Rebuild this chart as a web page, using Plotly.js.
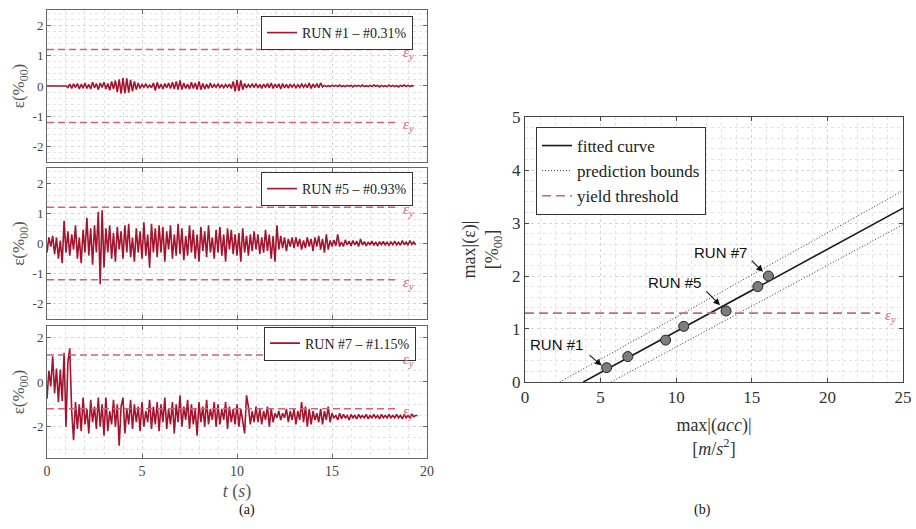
<!DOCTYPE html>
<html>
<head>
<meta charset="utf-8">
<script src="https://cdn.plot.ly/plotly-3.0.1.min.js"></script>
<style>html,body{margin:0;padding:0;background:#fff;}#chart{width:916px;height:529px;}</style>
</head>
<body>
<div id="chart"></div>
<script>
// ---------- DATA ----------
const sampleStep = 0.1; // s, time sampling of the strain records
const run1Strain = [
 0,0,0,0,0,0,0,0,0,0,
 0,-0.05,0.06,-0.08,0.07,-0.05,0.08,-0.1,0.06,-0.07,
 0.1,-0.08,0.05,-0.1,0.12,-0.06,0.08,-0.12,0.1,-0.05,
 0.12,-0.1,0.08,-0.14,0.15,-0.1,0.18,-0.2,0.22,-0.25,
 0.26,-0.24,0.25,-0.22,0.2,-0.18,0.15,-0.12,0.1,-0.08,
 0.05,-0.04,0.06,-0.05,0.03,-0.06,0.1,-0.15,0.12,-0.08,
 0.06,-0.1,0.08,-0.06,0.1,-0.08,0.12,-0.1,0.15,-0.12,
 0.18,-0.12,0.1,-0.08,0.06,-0.1,0.12,-0.08,0.1,-0.12,
 0.15,-0.12,0.08,-0.1,0.06,-0.08,0.1,-0.06,0.05,-0.04,
 0.06,-0.05,0.04,-0.06,0.05,-0.04,0.06,-0.08,0.15,-0.18,
 0.2,-0.16,0.18,-0.12,0.08,-0.06,0.05,-0.04,0.06,-0.05,
 0.08,-0.06,0.05,-0.08,0.06,-0.05,0.08,-0.06,0.1,-0.08,
 0.06,-0.05,0.07,-0.1,0.08,-0.06,0.05,-0.07,0.06,-0.04,
 0.05,-0.06,0.04,-0.05,0.06,-0.04,0.05,-0.06,0.1,-0.08,
 0.06,-0.05,0.08,-0.06,0.1,-0.03,0.02,-0.02,0.01,-0.02,
 0.02,-0.01,0.02,-0.02,0.03,-0.02,0.01,-0.02,0.02,-0.01,
 0.02,-0.03,0.02,-0.01,0.02,-0.02,0.03,-0.02,0.01,-0.02,
 0.02,-0.02,0.03,-0.01,0.02,-0.03,0.02,-0.02,0.01,-0.02,
 0.03,-0.02,0.02,-0.02,0.01,-0.03,0.02,-0.01,0.03,-0.02,
 0.02,-0.02,0.01,0.0
];
const run5Strain = [
 -0.3,0.2,-0.1,0.25,-0.35,0.2,-0.5,0.1,-0.65,0.75,
 -0.3,0.4,-0.4,0.3,-0.2,0.6,-0.5,0.2,-0.65,0.45,
 -0.3,0.85,-0.4,0.5,-0.7,0.6,-0.3,1.05,-1.35,1.1,
 -0.8,0.5,-0.3,0.6,-0.5,0.35,-0.6,0.55,-0.2,0.4,
 -0.5,0.6,-0.3,0.65,-0.45,0.2,-0.6,0.5,-0.3,0.4,
 -0.5,0.7,-0.4,0.3,-0.8,0.65,-0.3,0.5,-0.45,0.6,
 -0.3,0.55,-0.6,0.4,-0.2,0.6,-0.5,0.3,-0.4,0.65,
 -0.35,0.5,-0.55,0.25,-0.4,0.6,-0.3,0.45,-0.5,0.3,
 -0.6,0.55,-0.25,0.4,-0.45,0.6,-0.3,0.2,-0.5,0.45,
 -0.3,0.55,-0.4,0.3,-0.6,0.5,-0.2,0.45,-0.35,0.3,
 -0.4,0.35,-0.6,0.5,-0.3,0.25,-0.4,0.3,-0.25,0.4,
 -0.2,0.3,-0.35,0.2,-0.3,0.45,-0.25,0.3,-0.5,0.25,
 -0.6,0.6,-0.2,0.25,-0.15,0.2,-0.25,0.15,-0.1,0.2,
 -0.15,0.2,-0.1,0.15,-0.2,0.1,-0.15,0.2,-0.1,0.15,
 -0.25,0.2,-0.1,0.25,-0.2,0.15,-0.3,0.3,-0.2,0.1,
 -0.1,0.12,-0.08,0.3,-0.1,0.05,-0.1,0.12,-0.05,0.08,
 -0.08,0.1,-0.05,0.08,-0.1,0.15,-0.05,0.06,-0.08,0.05,
 -0.05,0.08,-0.06,0.05,-0.08,0.06,-0.04,0.07,-0.05,0.04,
 -0.06,0.05,-0.04,0.08,-0.05,0.04,-0.06,0.1,-0.04,0.05,
 -0.06,0.1,-0.03,0.05,-0.05
];
const run7Strain = [
 -0.75,0.5,-0.2,1.15,-0.5,0.6,-0.9,0.55,-0.85,1.3,
 -2.0,0.9,1.5,-1.3,-2.6,-0.9,-2.1,-1.0,-2.2,-0.7,
 -1.9,-1.2,-2.3,-0.8,-1.8,-1.1,-2.1,-0.7,-2.0,-1.0,
 -2.4,-0.7,-2.2,-1.3,-1.9,-0.8,-2.0,-1.0,-2.85,-1.1,
 -0.7,-2.3,-1.2,-1.9,-0.8,-2.1,-1.0,-1.8,-1.1,-2.2,
 -0.9,-2.0,-1.3,-1.8,-0.8,-2.1,-1.1,-1.9,-0.9,-2.2,
 -1.0,-1.8,-0.7,-2.1,-1.2,-1.9,-0.9,-2.3,-1.0,-1.8,
 -0.6,-2.0,-1.1,-1.7,-0.8,-2.1,-1.0,-1.9,-1.2,-2.4,
 -0.9,-1.8,-1.1,-2.0,-0.8,-1.9,-1.2,-1.7,-0.9,-2.0,
 -1.0,-1.9,-1.2,-1.7,-0.9,-2.1,-1.1,-1.8,-1.2,-1.9,
 -1.0,-2.0,-1.2,-1.7,-2.3,-0.6,-1.1,-1.9,-1.3,-1.8,
 -1.1,-1.8,-1.2,-1.9,-1.3,-1.7,-1.1,-2.0,-1.2,-1.8,
 -1.4,-1.6,-1.3,-1.7,-1.4,-1.6,-1.2,-1.8,-1.3,-1.7,
 -1.2,-1.9,-1.3,-1.7,-0.9,-1.8,-1.1,-2.0,-1.2,-1.9,
 -1.3,-1.7,-1.4,-1.8,-1.2,-1.9,-1.3,-1.7,-1.1,-1.8,
 -1.4,-1.6,-1.5,-1.7,-1.4,-1.65,-1.45,-1.6,-1.5,-1.7,
 -1.45,-1.6,-1.5,-1.65,-1.45,-1.6,-1.5,-1.6,-1.45,-1.65,
 -1.5,-1.6,-1.45,-1.6,-1.5,-1.65,-1.45,-1.6,-1.5,-1.6,
 -1.45,-1.6,-1.5,-1.6,-1.45,-1.6,-1.5,-1.65,-1.45,-1.6,
 -1.5,-1.6,-1.45,-1.55,-1.5,-1.5
];
const runLabels = ['RUN #1 – #0.31%', 'RUN #5 – #0.93%', 'RUN #7 – #1.15%'];
const yieldStrainA = 1.2;          // ‰, panel (a)
const yieldLineEndA = 18.5;        // s
const yieldStrainB = 1.3;          // ‰, panel (b)
const yieldLineEndB = 23.5;        // m/s²

const peakAcc    = [5.4, 6.8, 9.3, 10.5, 13.3, 15.4, 16.1];
const peakStrain = [0.27, 0.48, 0.79, 1.05, 1.34, 1.80, 2.00];
const fitX   = [3.86, 25];  const fitY   = [0, 3.28];
const upperX = [2.3, 25];   const upperY = [0, 3.61];
const lowerX = [5.7, 25];   const lowerY = [0, 2.97];

const yTicksA = [-2, -1, 0, 1, 2];   const yTickTextA = ['-2','-1','0','1','2'];
const yTicksA3 = [-2, 0, 2];         const yTickTextA3 = ['-2','0','2'];
const xTicksA = [0, 5, 10, 15, 20];
const xTicksB = [0, 5, 10, 15, 20, 25];
const yTicksB = [0, 1, 2, 3, 4, 5];

// ---------- build ----------
const timeOf = arr => arr.map((_, i) => +(i * sampleStep).toFixed(2));
const red = '#a3142f', pink = '#d4607a';
const serif = 'Liberation Serif, DejaVu Serif, serif';
const sans = 'Liberation Sans, Arial, sans-serif';

const runs = [run1Strain, run5Strain, run7Strain];
const traces = [];
runs.forEach((r, k) => {
  const ax = k === 0 ? '' : String(k + 1);
  traces.push({x: timeOf(r), y: r, xaxis: 'x' + ax, yaxis: 'y' + ax, type: 'scatter', mode: 'lines',
    name: runLabels[k], line: {color: red, width: 1.6}, legend: k === 0 ? 'legend' : 'legend' + (k + 1)});
  [yieldStrainA, -yieldStrainA].forEach(v => traces.push({x: [0, yieldLineEndA], y: [v, v], xaxis: 'x' + ax, yaxis: 'y' + ax,
    mode: 'lines', line: {color: pink, width: 1.5, dash: '7px,4px'}, showlegend: false, hoverinfo: 'skip'}));
});
traces.push({x: fitX, y: fitY, xaxis: 'x4', yaxis: 'y4', mode: 'lines', name: 'fitted curve',
  line: {color: '#1a1a1a', width: 1.6}, legend: 'legend4'});
traces.push({x: upperX, y: upperY, xaxis: 'x4', yaxis: 'y4', mode: 'lines', name: 'prediction bounds',
  line: {color: '#333', width: 1, dash: '1px,2px'}, legend: 'legend4'});
traces.push({x: lowerX, y: lowerY, xaxis: 'x4', yaxis: 'y4', mode: 'lines', name: 'prediction bounds',
  line: {color: '#333', width: 1, dash: '1px,2px'}, showlegend: false});
traces.push({x: [0, yieldLineEndB], y: [yieldStrainB, yieldStrainB], xaxis: 'x4', yaxis: 'y4', mode: 'lines',
  name: 'yield threshold', line: {color: pink, width: 1.6, dash: '9px,5px'}, legend: 'legend4'});
traces.push({x: peakAcc, y: peakStrain, xaxis: 'x4', yaxis: 'y4', mode: 'markers', name: 'RUN data', showlegend: false,
  marker: {size: 10, color: '#7d7d7d', line: {color: '#222', width: 1}}});

const gridBase = (col, lc) => ({
  showline: true, linecolor: lc, linewidth: 1, mirror: 'allticks', ticks: 'inside', ticklen: 4, tickcolor: lc,
  showgrid: true, gridcolor: '#d6d6d6', griddash: 'dot', gridwidth: 1, zeroline: false,
  tickfont: {family: serif, color: col, size: 13}
});
const leftX = (labels) => Object.assign(gridBase('#444', '#666'), {
  domain: [0.0513, 0.4662], range: [0, 20], tickvals: xTicksA, showticklabels: labels,
  minor: {dtick: 1, showgrid: true, gridcolor: '#e3e3e3', griddash: 'dot', ticks: ''}
});
const leftY = (dom, rng, tv, tt, mdt) => Object.assign(gridBase('#444', '#666'), {
  domain: dom, range: rng, tickvals: tv, ticktext: tt, tickfont: {family: serif, color: '#444', size: 13},
  title: {text: 'ε(%<sub>00</sub>)', font: {family: serif, size: 17, color: '#555'}, standoff: 3},
  minor: {dtick: mdt, showgrid: true, gridcolor: '#e3e3e3', griddash: 'dot', ticks: ''}
});

const xa1 = leftX(false), xa2 = leftX(false), xa3 = leftX(true);
xa1.anchor = 'y'; xa2.anchor = 'y2'; xa3.anchor = 'y3';
xa3.title = {text: '<i>t</i> (<i>s</i>)', font: {family: serif, size: 18, color: '#555'}, standoff: 6};
xa3.tickfont = {family: serif, color: '#444', size: 14};
const ya1 = leftY([0.6938, 0.9811], [-2.5, 2.5], yTicksA, yTickTextA, 0.2); ya1.anchor = 'x';
const ya2 = leftY([0.3970, 0.6824], [-2.5, 2.5], yTicksA, yTickTextA, 0.2); ya2.anchor = 'x2';
const ya3 = leftY([0.1342, 0.3837], [-3.4, 2.5], yTicksA3, yTickTextA3, 0.5); ya3.anchor = 'x3';

const xa4 = Object.assign(gridBase('#333', '#444'), {
  domain: [0.5731, 0.9858], range: [0, 25], tickvals: xTicksB, anchor: 'y4',
  tickfont: {family: serif, color: '#333', size: 17},
  minor: {dtick: 1, showgrid: true, gridcolor: '#e3e3e3', griddash: 'dot', ticks: ''},
  title: {text: 'max|(<i>acc</i>)|<br>[<i>m</i>/<i>s</i><sup>2</sup>]', font: {family: serif, size: 18, color: '#333'}, standoff: 12}
});
const ya4 = Object.assign(gridBase('#333', '#444'), {
  domain: [0.2779, 0.7788], range: [0, 5], tickvals: yTicksB, anchor: 'x4',
  tickfont: {family: serif, color: '#333', size: 17},
  minor: {dtick: 0.2, showgrid: true, gridcolor: '#e3e3e3', griddash: 'dot', ticks: ''},
  title: {text: 'max|(ε)|<br>[%<sub>00</sub>]', font: {family: serif, size: 18, color: '#333'}, standoff: 8}
});

const legBase = (x, y, xa, sz) => ({x: x, y: y, xanchor: xa, yanchor: 'top', bgcolor: 'white', bordercolor: '#333',
  borderwidth: 1, font: {family: serif, size: sz, color: '#222'}, tracegroupgap: 0});

const epsLabel = (xr, yr, x, y, ys) => ({xref: xr, yref: yr, x: x, y: y, text: '<i>ε<sub>y</sub></i>', showarrow: false,
  xanchor: 'left', yanchor: 'middle', yshift: ys, font: {family: serif, size: 15, color: pink}});
const annotations = [];
[['x','y'],['x2','y2'],['x3','y3']].forEach(([xr, yr]) => {
  annotations.push(epsLabel(xr, yr, yieldLineEndA + 0.15, yieldStrainA, xr === 'x3' ? -5 : -3));
  annotations.push(epsLabel(xr, yr, yieldLineEndA + 0.15, -yieldStrainA, -3));
});
annotations.push(epsLabel('x4', 'y4', yieldLineEndB + 0.2, yieldStrainB, -3));
const runTxt = (x, y, t) => ({xref: 'x4', yref: 'y4', x: x, y: y, text: t, showarrow: false,
  font: {family: sans, size: 15, color: '#111'}});
annotations.push(runTxt(2.1, 0.70, 'RUN #1'), runTxt(9.9, 1.87, 'RUN #5'), runTxt(12.9, 2.45, 'RUN #7'));
const arrow = (tx, ty, hx, hy) => ({xref: 'x4', yref: 'y4', axref: 'x4', ayref: 'y4', x: hx, y: hy, ax: tx, ay: ty,
  text: '', showarrow: true, arrowhead: 2, arrowsize: 1.2, arrowwidth: 1.1, arrowcolor: '#111', standoff: 0, startstandoff: 0});
annotations.push(arrow(4.17, 0.53, 5.07, 0.31), arrow(11.9, 1.74, 12.9, 1.45), arrow(14.9, 2.32, 15.74, 2.08));
annotations.push({xref: 'paper', yref: 'paper', x: 237/916, y: 1 - 520/529, text: '(a)', showarrow: false,
  font: {family: serif, size: 14, color: '#111'}});
annotations.push({xref: 'paper', yref: 'paper', x: 713/916, y: 1 - 520/529, text: '(b)', showarrow: false,
  font: {family: serif, size: 14, color: '#111'}});

const layout = {
  width: 916, height: 529, margin: {l: 0, r: 0, t: 0, b: 0},
  paper_bgcolor: 'white', plot_bgcolor: 'white', showlegend: true,
  font: {family: serif, color: '#333'},
  xaxis: xa1, yaxis: ya1, xaxis2: xa2, yaxis2: ya2, xaxis3: xa3, yaxis3: ya3, xaxis4: xa4, yaxis4: ya4,
  legend: legBase(413/916, 1 - 16/529, 'right', 14),
  legend2: legBase(413/916, 1 - 172/529, 'right', 14),
  legend3: legBase(416/916, 1 - 326.5/529, 'right', 14),
  legend4: legBase(536/916, 1 - 127/529, 'left', 17),
  annotations: annotations
};
Plotly.newPlot('chart', traces, layout, {staticPlot: true, displayModeBar: false});
</script>
</body>
</html>
